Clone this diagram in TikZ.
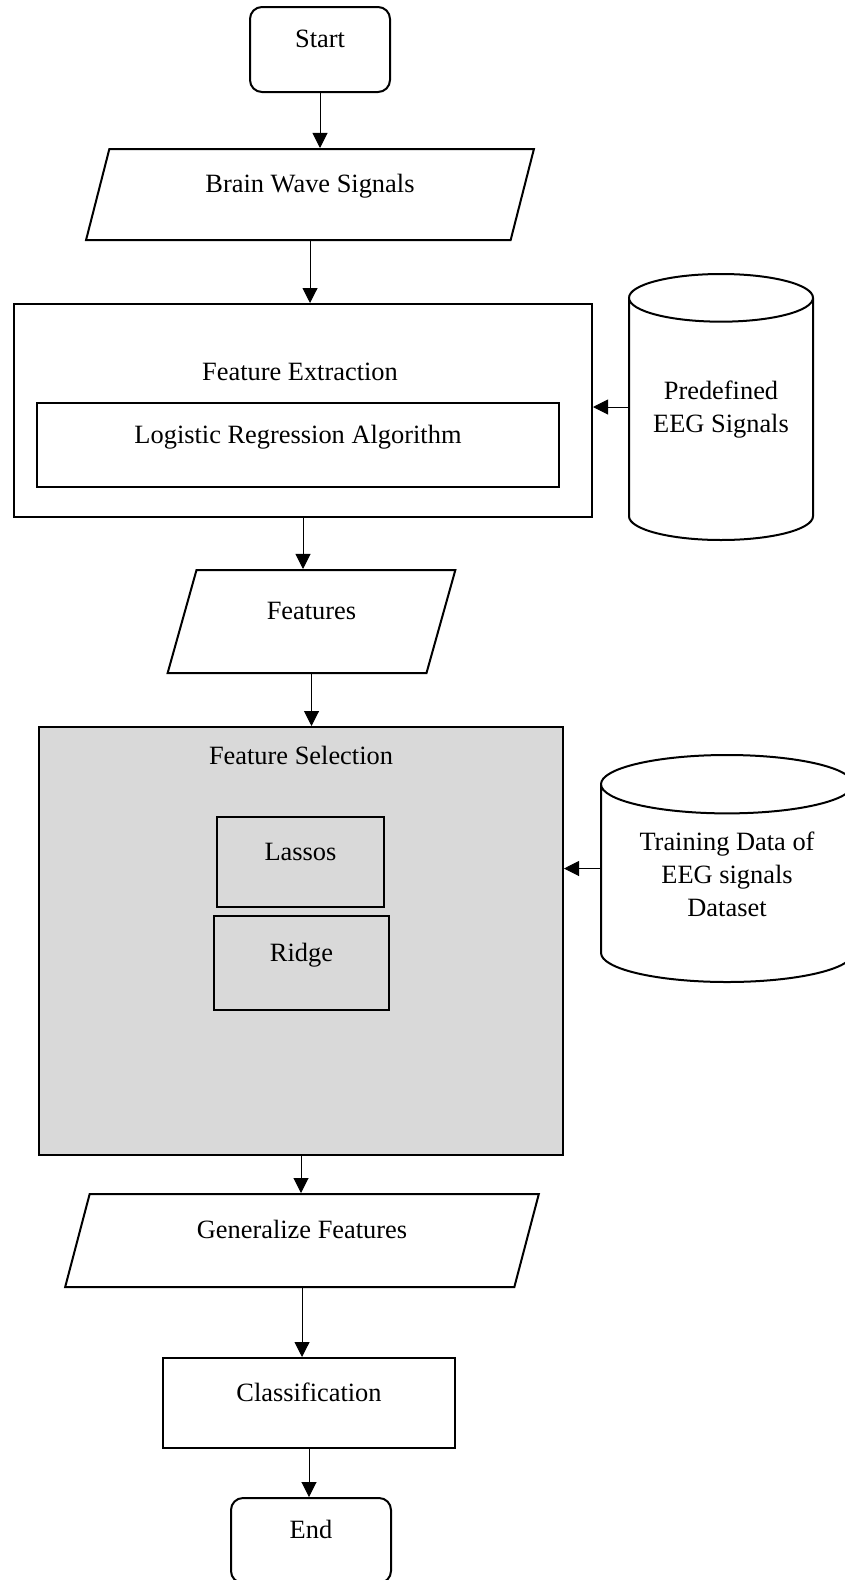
\documentclass[tikz,border=0pt]{standalone}
\usepackage{fontspec}
\setmainfont{Liberation Serif}
\usetikzlibrary{shapes.geometric, arrows.meta}

\tikzset{
  box/.style={rectangle, draw, line width=1pt},
  term/.style={rectangle, rounded corners=6pt, draw, line width=1pt},
  io/.style={trapezium, trapezium stretches=true, trapezium left angle=76.4, trapezium right angle=103.6, draw, line width=1pt},
  store/.style={cylinder, shape border rotate=90, draw, line width=1pt, align=center, anchor=shape center},
  upper/.style={text height=9pt, text depth=11pt},
  flow/.style={-{Triangle[length=7.5pt, width=7.5pt]}, line width=0.5pt},
}

\begin{document}
\begin{tikzpicture}[x=0.5pt, y=-0.5pt, font=\fontsize{13.2}{16.5}\selectfont]
  \useasboundingbox (0,0) rectangle (845,1580);

  \node[term, upper, minimum width=70pt, minimum height=42.5pt] (start) at (320,49.5) {Start};
  \node[io, upper, minimum width=224pt, minimum height=45.5pt] (brain) at (310,194.5) {Brain Wave Signals};

  % feature extraction block
  \node[box, minimum width=289pt, minimum height=106.5pt] (fe) at (303,410.5) {};
  \node (fetitle) at (300,372) {Feature Extraction};
  \node[box, upper, minimum width=261pt, minimum height=42pt] (lr) at (298,445) {Logistic Regression Algorithm};
  \node[store, aspect=0.32, text depth=17pt, minimum width=92pt, minimum height=133pt] (pre) at (721,407) {Predefined\\EEG Signals};

  \node[io, upper, minimum width=144.5pt, minimum height=51.5pt] (feat) at (311.5,621.5) {Features};

  % feature selection block
  \node[box, fill={rgb,255:red,217;green,217;blue,217}, minimum width=262pt, minimum height=214pt] (fs) at (301,941) {};
  \node (fstitle) at (301,755) {Feature Selection};
  \node[box, upper, minimum width=83.5pt, minimum height=45pt] (lasso) at (300.5,862) {Lassos};
  \node[box, upper, minimum width=87.5pt, minimum height=47pt] (ridge) at (301.5,963) {Ridge};
  \node[store, aspect=0.31, text depth=13.6pt, minimum width=126pt, minimum height=113.5pt] (train) at (727,868.5) {Training Data of\\EEG signals\\Dataset};

  \node[io, upper, minimum width=237pt, minimum height=46.5pt] (gen) at (302,1240.5) {Generalize Features};
  \node[box, upper, minimum width=146pt, minimum height=45pt] (cls) at (309,1403) {Classification};
  \node[term, upper, minimum width=80pt, minimum height=42.5pt] (end) at (311,1540.5) {End};

  \foreach \source/\dest in {start/brain, brain/fe, fe/feat, feat/fs, fs/gen, gen/cls, cls/end}
    \draw[flow] (\source.south) -- (\source.south |- \dest.north);

  \foreach \source/\dest in {pre/fe, train/fs}
    \draw[flow] (\source.west |- \source.shape center) -- (\source.shape center -| \dest.east);
\end{tikzpicture}
\end{document}
